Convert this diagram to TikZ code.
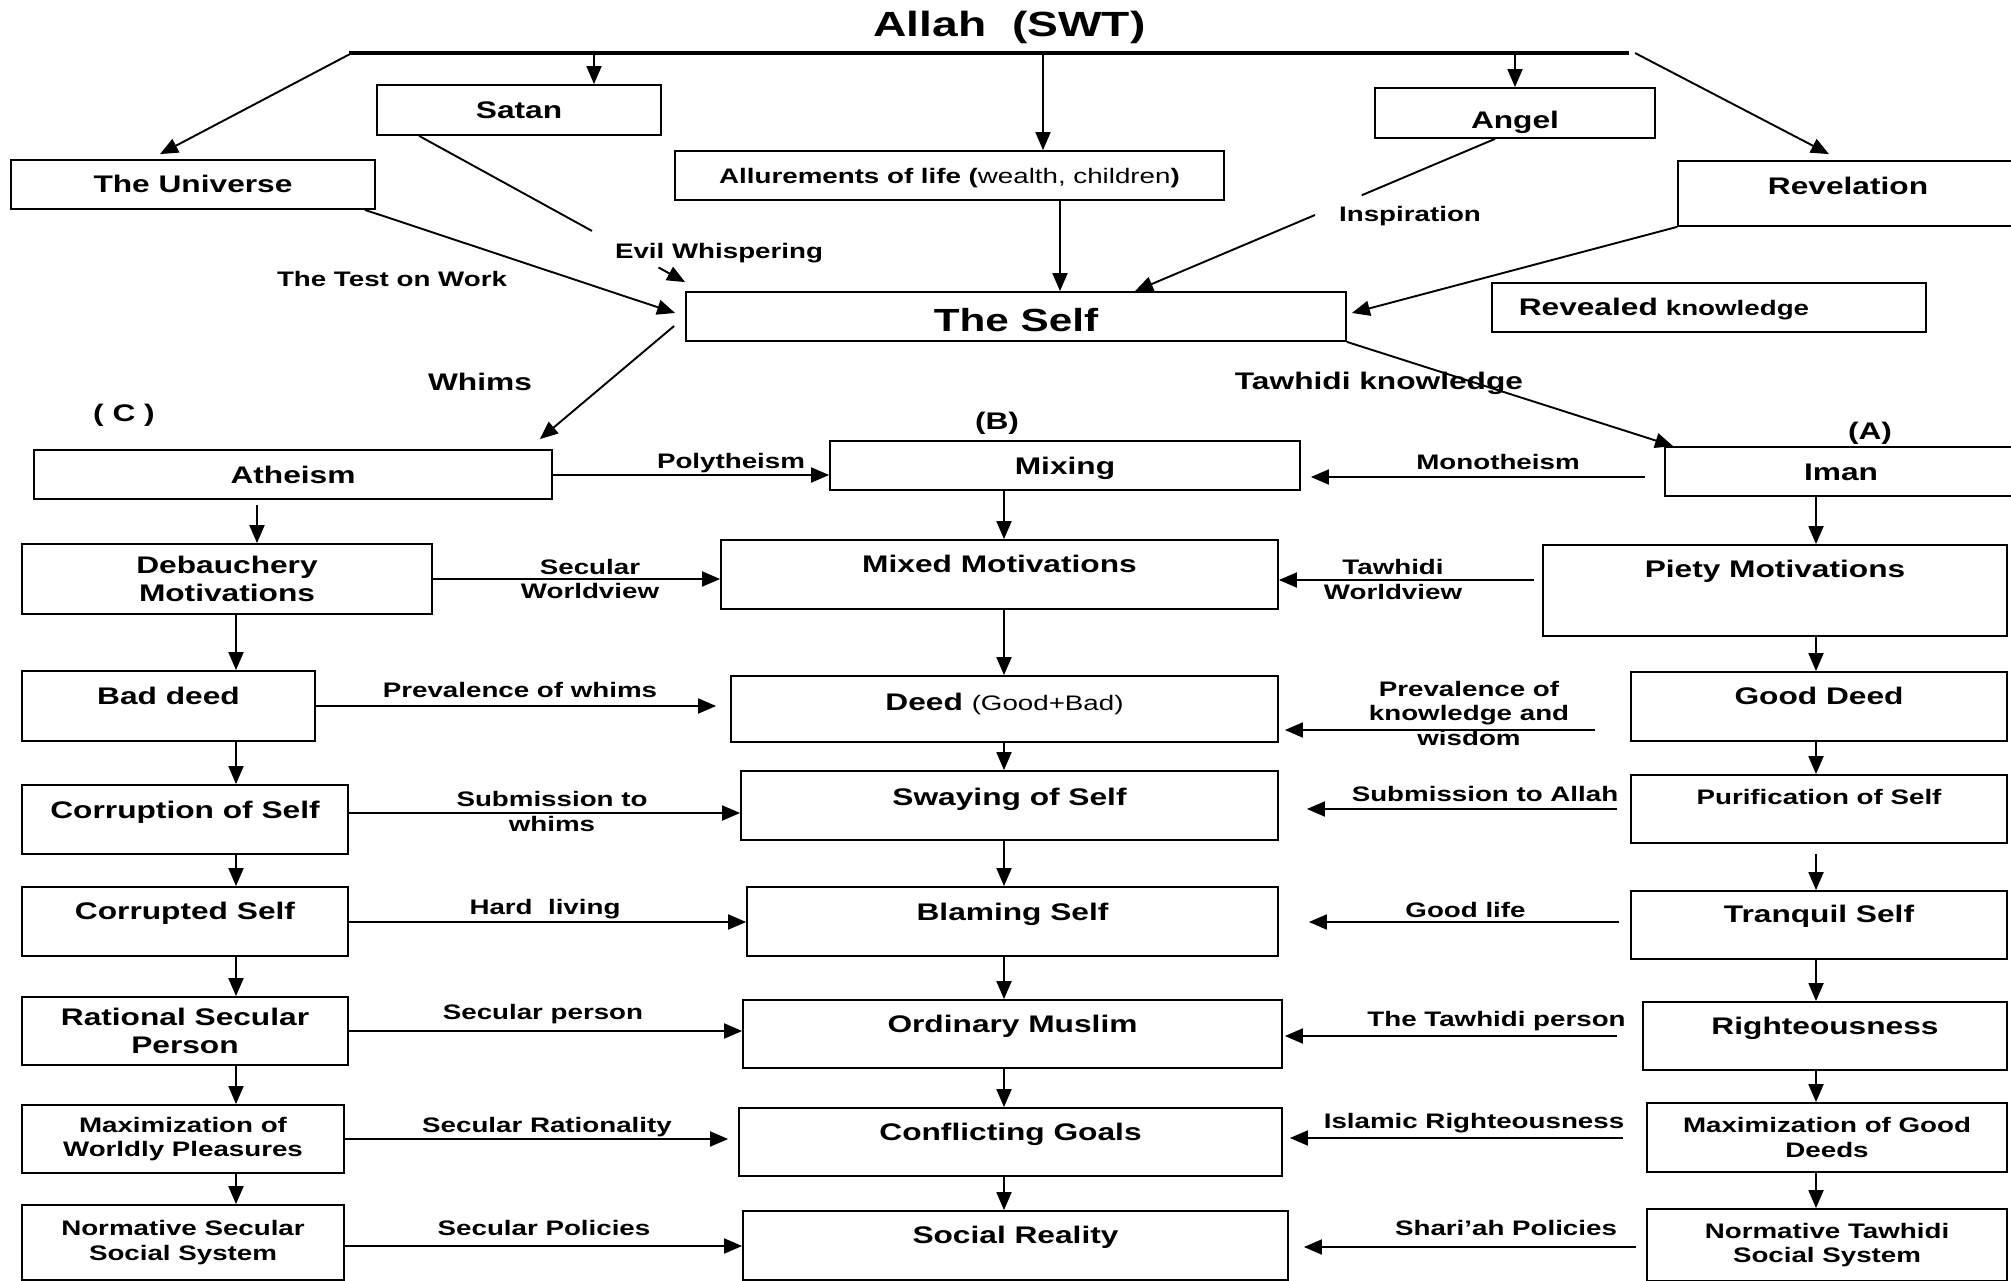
\documentclass[tikz,border=0pt]{standalone}
\usepackage{fontspec}
\setmainfont{Liberation Sans}[FakeStretch=1.32]
\usetikzlibrary{arrows.meta, calc}
\newcommand\sztitle{\fontsize{35}{40}\selectfont\bfseries}
\newcommand\szself{\fontsize{32}{36}\selectfont\bfseries}
\newcommand\szbig{\fontsize{24}{27}\selectfont\bfseries}
\newcommand\szsmall{\fontsize{21}{24.5}\selectfont\bfseries}
\newcommand\szlbl{\fontsize{21}{24.5}\selectfont\bfseries}
\tikzset{
  box/.style = {draw, line width=1.8pt, inner sep=0pt, font=\szbig, text height=17pt, text depth=0pt},
  topbox/.style = {box, text depth=21pt},
  twobox/.style = {draw, line width=1.8pt, inner sep=0pt, align=center, font=\szbig},
  lbl/.style = {font=\szlbl, inner sep=0pt, align=center},
  ln/.style = {line width=1.9pt},
  arr/.style = {line width=1.9pt, -{Triangle[length=18pt, width=15pt]}}
}

\begin{document}
\begin{tikzpicture}[x=1pt, y=-1pt]
        \useasboundingbox (0,0) rectangle (2011,1281);
        \node[font=\sztitle, inner sep=0pt, text height=25pt, text depth=0pt] (allah) at (1009.5,24.5) {Allah\ \ (SWT)};
        \coordinate (ls) at (349,53);
        \coordinate (le) at (1629,53);
        \coordinate (l1) at (594,53);
        \coordinate (l2) at (1043,53);
        \draw[line width=4.5pt] (ls) -- (le);

        \node[box, minimum width=364, minimum height=49] (uni) at (193,184.5) {The Universe};
        \node[box, minimum width=284, minimum height=50] (sat) at (519,110) {Satan};
        \node[box, minimum width=549, minimum height=49] (all) at (949.5,175.5) {\szsmall Allurements of life (\mdseries wealth, children\bfseries)};
        \node[box, minimum width=280, minimum height=50, text height=31pt] (ang) at (1515,113) {Angel};
        \node[box, minimum width=340, minimum height=65, text depth=15pt] (rev) at (1848,193.5) {Revelation};
        \node[box, minimum width=660, minimum height=49, font=\szself, text height=30pt] (self) at (1016,316.5) {The Self};
        \node[box, text width=380.5pt, inner xsep=27pt, minimum height=49, align=left] (rk) at (1709,307.5) {Revealed {\szlbl knowledge}};

        \draw[arr] ([xshift=3pt]ls) -- ([xshift=-33pt, yshift=5pt]uni.north);
        \draw[arr] (l1) -- (sat.north -| l1);
        \draw[arr] (l2) -- (all.north -| l2);
        \draw[arr] (ang.north |- ls) -- (ang.north);
        \draw[arr] ([xshift=6pt]le) -- ([xshift=-19pt, yshift=6pt]rev.north);

        \draw[arr] ([xshift=-11pt]uni.south east) -- ([xshift=-10pt, yshift=3.5pt]self.west);
        \coordinate (sa) at ([xshift=43pt]sat.south west);
        \coordinate (sb) at ([yshift=9pt]self.north west);
        \draw[ln] (sa) -- ($(sa)!0.65!(sb)$);
        \draw[arr] ($(sa)!0.9!(sb)$) -- (sb);
        \draw[arr] ([xshift=44pt]self.north |- all.south) -- ([xshift=44pt]self.north);
        \coordinate (aa) at ([xshift=-20pt]ang.south);
        \coordinate (ab) at ([xshift=119pt]self.north);
        \draw[ln] (aa) -- ($(aa)!0.37!(ab)$);
        \draw[arr] ($(aa)!0.5!(ab)$) -- (ab);
        \draw[arr] (rev.south west) -- ([xshift=5pt, yshift=3.5pt]self.east);

        \node[lbl, font=\szsmall] (test) at (392,279) {The Test on Work};
        \node[lbl, font=\szsmall] (evil) at (719,253) {Evil Whispering};
        \node[lbl, font=\szsmall] (insp) at (1410,216) {Inspiration};
        \node[lbl, font=\szbig] (whims) at (480,382) {Whims};
        \node[lbl, font=\szbig] (tknow) at (1379,383) {Tawhidi knowledge};
        \node[lbl, font=\szbig] (colc) at (124,415) {( C )};
        \node[lbl, font=\szbig] (colb) at (997,423) {(B)};
        \node[lbl, font=\szbig] (cola) at (1870,433) {(A)};

        % three columns
        \node[box, minimum width=518, minimum height=49] (ath) at (293,474.5) {Atheism};
        \node[box, minimum width=470, minimum height=49] (mix) at (1065,465.5) {Mixing};
        \node[box, minimum width=352, minimum height=49] (iman) at (1841,471.5) {Iman};

        \node[twobox, minimum width=410, minimum height=70, font=\fontsize{24}{28}\selectfont\bfseries] (deb) at (227,579) {Debauchery\\Motivations};
        \node[topbox, minimum width=557, minimum height=69] (mm) at (999.5,574.5) {Mixed Motivations};
        \node[topbox, minimum width=463.5, minimum height=91, text depth=43pt] (pm) at (1775,590.5) {Piety Motivations};

        \node[topbox, minimum width=293, minimum height=70, text depth=20pt] (bad) at (168.5,706) {Bad deed};
        \node[topbox, minimum width=547, minimum height=66, text depth=14pt] (deed) at (1004.5,709) {Deed {\szlbl\mdseries (Good+Bad)}};
        \node[topbox, minimum width=376.5, minimum height=69] (gd) at (1819,706.5) {Good Deed};

        \node[topbox, minimum width=326, minimum height=69, text depth=19pt] (cor) at (185,819.5) {Corruption of Self};
        \node[topbox, minimum width=537, minimum height=69, text depth=17pt] (sway) at (1009.5,805.5) {Swaying of Self};
        \node[topbox, minimum width=376.5, minimum height=68, font=\szsmall, text height=15pt, text depth=24pt] (pur) at (1819,809) {Purification of Self};

        \node[topbox, minimum width=326, minimum height=69] (cord) at (185,921.5) {Corrupted Self};
        \node[topbox, minimum width=531, minimum height=69, text depth=19pt] (blam) at (1012.5,921.5) {Blaming Self};
        \node[topbox, minimum width=376.5, minimum height=68, text depth=22pt] (tran) at (1819,925) {Tranquil Self};

        \node[twobox, minimum width=326, minimum height=68, font=\fontsize{24}{28}\selectfont\bfseries] (rat) at (185,1031) {Rational Secular\\Person};
        \node[topbox, minimum width=539, minimum height=68, text depth=20pt] (ord) at (1012.5,1034) {Ordinary Muslim};
        \node[topbox, minimum width=364, minimum height=68, text depth=20pt] (righ) at (1825,1036) {Righteousness};

        \node[twobox, font=\szsmall, minimum width=322, minimum height=68] (mw) at (183,1139) {Maximization of\\Worldly Pleasures};
        \node[topbox, minimum width=543, minimum height=68, text depth=20pt] (conf) at (1010.5,1142) {Conflicting Goals};
        \node[twobox, font=\szsmall, minimum width=360, minimum height=69] (mg) at (1827,1137.5) {Maximization of Good\\Deeds};

        \node[twobox, font=\szsmall, minimum width=322, minimum height=75] (ns) at (183,1242.5) {Normative Secular\\Social System};
        \node[topbox, minimum width=545, minimum height=69] (soc) at (1015.5,1245.5) {Social Reality};
        \node[twobox, font=\szsmall, minimum width=360, minimum height=72] (nt) at (1827,1245) {Normative Tawhidi\\Social System};

        \draw[arr] (self.south east) -- ([xshift=9pt]iman.north west);
        \draw[arr] ([xshift=-11pt, yshift=-9.5pt]self.west) -- ([xshift=-13pt, yshift=10pt]ath.north east);

        % downward arrows
        \coordinate (ca) at (257,0);
        \coordinate (cl) at (236,0);
        \coordinate (cm) at (1004,0);
        \coordinate (cr) at (1816,0);
        \draw[arr] ([yshift=-5pt]ath.south -| ca) -- (deb.north -| ca);
        \draw[arr] (deb.south -| cl) -- (bad.north -| cl);
        \draw[arr] (bad.south -| cl) -- (cor.north -| cl);
        \draw[arr] (cor.south -| cl) -- (cord.north -| cl);
        \draw[arr] (cord.south -| cl) -- (rat.north -| cl);
        \draw[arr] (rat.south -| cl) -- (mw.north -| cl);
        \draw[arr] (mw.south -| cl) -- (ns.north -| cl);
        \draw[arr] (mix.south -| cm) -- (mm.north -| cm);
        \draw[arr] (mm.south -| cm) -- (deed.north -| cm);
        \draw[arr] (deed.south -| cm) -- (sway.north -| cm);
        \draw[arr] (sway.south -| cm) -- (blam.north -| cm);
        \draw[arr] (blam.south -| cm) -- (ord.north -| cm);
        \draw[arr] (ord.south -| cm) -- (conf.north -| cm);
        \draw[arr] (conf.south -| cm) -- (soc.north -| cm);
        \draw[arr] (iman.south -| cr) -- (pm.north -| cr);
        \draw[arr] (pm.south -| cr) -- (gd.north -| cr);
        \draw[arr] (gd.south -| cr) -- (pur.north -| cr);
        \draw[arr] ([yshift=-10pt]pur.south -| cr) -- (tran.north -| cr);
        \draw[arr] (tran.south -| cr) -- (righ.north -| cr);
        \draw[arr] (righ.south -| cr) -- (mg.north -| cr);
        \draw[arr] (mg.south -| cr) -- (nt.north -| cr);

        % from (C) to (B)
        \draw[arr] ([yshift=-0.5pt]ath.east) -- ([yshift=-0.5pt]ath.east -| mix.west);
        \draw[arr] (deb.east) -- (mm.west |- deb.east);
        \draw[arr, shorten >=14pt] (bad.east) -- (deed.west |- bad.east);
        \draw[arr] ([yshift=6.5pt]cor.east) -- ([yshift=6.5pt]cor.east -| sway.west);
        \draw[arr] ([yshift=-0.5pt]cord.east) -- ([yshift=-0.5pt]cord.east -| blam.west);
        \draw[arr] (rat.east) -- (ord.west |- rat.east);
        \draw[arr, shorten >=10pt] (mw.east) -- (conf.west |- mw.east);
        \draw[arr] ([yshift=-3.5pt]ns.east) -- ([yshift=-3.5pt]ns.east -| soc.west);

        % from (A) to (B)
        \draw[arr, shorten <=19pt, shorten >=10pt] ([yshift=-5.5pt]iman.west) -- ([yshift=-5.5pt]iman.west -| mix.east);
        \draw[arr, shorten <=8.5pt] ([yshift=10.5pt]pm.west) -- ([yshift=10.5pt]pm.west -| mm.east);
        \draw[arr, shorten <=34.5pt, shorten >=6pt] ([yshift=-23.5pt]gd.west) -- ([yshift=-23.5pt]gd.west -| deed.east);
        \draw[arr, shorten <=12.5pt, shorten >=28pt] (pur.west) -- (sway.east |- pur.west);
        \draw[arr, shorten <=10.5pt, shorten >=30pt] ([yshift=3pt]tran.west) -- ([yshift=3pt]tran.west -| blam.east);
        \draw[arr, shorten <=25pt, shorten >=2pt] (righ.west) -- (ord.east |- righ.west);
        \draw[arr, shorten <=23pt, shorten >=7pt] ([yshift=-0.5pt]mg.west) -- ([yshift=-0.5pt]mg.west -| conf.east);
        \draw[arr, shorten <=10pt, shorten >=15pt] ([yshift=-2pt]nt.west) -- ([yshift=-2pt]nt.west -| soc.east);

        \node[lbl] (poly) at (731,463) {Polytheism};
        \node[lbl] (secwv) at (590,579) {Secular\\Worldview};
        \node[lbl] (prevw) at (520,690) {Prevalence of whims};
        \node[lbl] (subw) at (552,811.5) {Submission to\\whims};
        \node[lbl] (hard) at (545,909) {Hard\ \ living};
        \node[lbl] (secp) at (543,1014) {Secular person};
        \node[lbl] (secr) at (547,1127) {Secular Rationality};
        \node[lbl] (secpol) at (544,1228) {Secular Policies};
        \node[lbl] (mono) at (1498,462) {Monotheism};
        \node[lbl] (tawwv) at (1393,579.5) {Tawhidi\\Worldview};
        \node[lbl] (prevk) at (1469,713) {Prevalence of\\knowledge and\\wisdom};
        \node[lbl] (suba) at (1485,794) {Submission to Allah};
        \node[lbl] (goodl) at (1465.5,910) {Good life};
        \node[lbl] (tawp) at (1496.5,1021) {The Tawhidi person};
        \node[lbl] (islr) at (1474,1123) {Islamic Righteousness};
        \node[lbl] (shar) at (1506,1228) {Shari’ah Policies};
    \end{tikzpicture}
\end{document}
